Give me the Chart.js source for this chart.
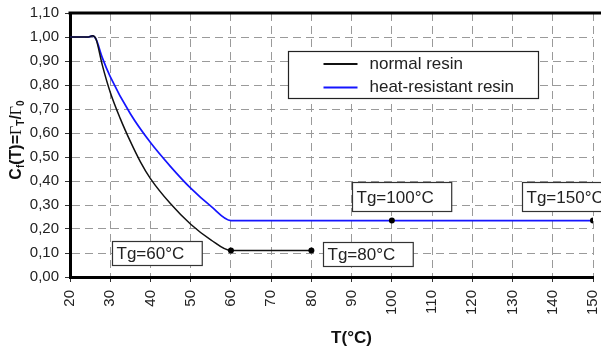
<!DOCTYPE html>
<html>
<head>
<meta charset="utf-8">
<script src="https://cdn.jsdelivr.net/npm/chart.js@4.4.1/dist/chart.umd.min.js"></script>
<style>
  html, body { margin: 0; padding: 0; background: #fff; }
  #myChartTg { display: block; }
</style>
</head>
<body>
<canvas id="myChartTg" width="601" height="349"></canvas>
<script>
//? Valeurs (T en °C, Cf sans unité).

const temperaturesNormal = [20, 24.5, 25.6, 26.5, 28, 30, 32.5, 35, 37.5, 40, 45, 50, 55, 60, 80];
const valeursNormal = [1.0, 1.0, 1.005, 0.99, 0.885, 0.77, 0.66, 0.565, 0.48, 0.41, 0.305, 0.22, 0.155, 0.11, 0.11];

const temperaturesHeat = [20, 24.5, 25.6, 26.5, 28, 30, 35, 40, 45, 50, 55, 60, 100, 150];
const valeursHeat = [1.0, 1.0, 1.005, 0.99, 0.915, 0.835, 0.68, 0.56, 0.46, 0.37, 0.295, 0.235, 0.235, 0.235];

// points marqués (Tg)
const pointsNormal = [60, 80];
const pointsHeat = [100, 150];

const seriesLabels = ["normal resin", "heat-resistant resin"];
const tgLabels = ["Tg=60°C", "Tg=80°C", "Tg=100°C", "Tg=150°C"];

//? -------------------------------------------------

//? Placement des étiquettes Tg (coin haut-gauche en coordonnées du graphique).

const tgBoxes = [
  { text: tgLabels[0], x: 30.4, y: 0.151, h: 24 },
  { text: tgLabels[1], x: 82.8, y: 0.145, h: 24 },
  { text: tgLabels[2], x: 90.0, y: 0.395, h: 29 },
  { text: tgLabels[3], x: 132.4, y: 0.395, h: 29 },
];

const FONT = "'Liberation Sans', Arial, sans-serif";
const TEXT_COLOR = "#222";

const toPoints = (xs, ys) => xs.map((x, i) => ({ x, y: ys[i] }));
const radii = (xs, marked) => xs.map((x) => (marked.includes(x) ? 3 : 0));

//? -------------------------------------------------

//? Dessin du cadre, de la légende, des étiquettes et du titre Y.

const decorations = {
  id: "decorations",
  afterDraw(chart) {
    const { ctx, chartArea, scales } = chart;
    const xs = scales.x;
    const ys = scales.y;

    ctx.save();

    // bordure haute
    ctx.strokeStyle = "#000";
    ctx.lineWidth = 3;
    ctx.beginPath();
    ctx.moveTo(chartArea.left - 1.5, chartArea.top);
    ctx.lineTo(chart.width, chartArea.top);
    ctx.stroke();

    // étiquettes Tg
    ctx.font = "17px " + FONT;
    ctx.textBaseline = "middle";
    ctx.textAlign = "left";
    tgBoxes.forEach((b) => {
      const left = Math.round(xs.getPixelForValue(b.x)) + 0.5;
      const top = Math.round(ys.getPixelForValue(b.y)) + 0.5;
      const w = ctx.measureText(b.text).width + 22;
      ctx.fillStyle = "#fff";
      ctx.fillRect(left, top, w, b.h);
      ctx.strokeStyle = "#333";
      ctx.lineWidth = 1.2;
      ctx.strokeRect(left, top, w, b.h);
      ctx.fillStyle = TEXT_COLOR;
      ctx.fillText(b.text, left + 4, top + b.h / 2 + 1);
    });

    // légende
    const lgLeft = chartArea.left + 218.5;
    const lgTop = chartArea.top + 38.5;
    ctx.fillStyle = "#fff";
    ctx.fillRect(lgLeft, lgTop, 250, 47);
    ctx.strokeStyle = "#222";
    ctx.lineWidth = 1.2;
    ctx.strokeRect(lgLeft, lgTop, 250, 47);
    const colors = chart.data.datasets.map((d) => d.borderColor);
    seriesLabels.forEach((label, i) => {
      const yy = lgTop + 12.5 + i * 23.5;
      ctx.strokeStyle = colors[i];
      ctx.lineWidth = 2;
      ctx.beginPath();
      ctx.moveTo(lgLeft + 35, yy);
      ctx.lineTo(lgLeft + 69, yy);
      ctx.stroke();
      ctx.fillStyle = TEXT_COLOR;
      ctx.font = "17px " + FONT;
      ctx.fillText(label, lgLeft + 81, yy);
    });

    // titre axe X
    ctx.font = "bold 17px " + FONT;
    ctx.textAlign = "center";
    ctx.fillStyle = "#111";
    ctx.fillText("T(°C)", (chartArea.left + chartArea.right) / 2 + 20, 338);

    // titre axe Y : Cf(T)=ΓT/Γ0
    const parts = [
      { t: "C", f: "bold 16px " + FONT, dy: 0 },
      { t: "f", f: "bold 10px " + FONT, dy: 3 },
      { t: "(T)=", f: "bold 16px " + FONT, dy: 0 },
      { t: "Γ", f: "16px 'Liberation Serif', serif", dy: 0 },
      { t: "T", f: "bold 10px " + FONT, dy: 3 },
      { t: "/", f: "bold 16px " + FONT, dy: 0 },
      { t: "Γ", f: "16px 'Liberation Serif', serif", dy: 0 },
      { t: "0", f: "bold 10px " + FONT, dy: 3 },
    ];
    let total = 0;
    parts.forEach((p) => {
      ctx.font = p.f;
      p.w = ctx.measureText(p.t).width;
      total += p.w;
    });
    ctx.translate(21, (chartArea.top + chartArea.bottom) / 2 - 5);
    ctx.rotate(-Math.PI / 2);
    ctx.textAlign = "left";
    ctx.textBaseline = "alphabetic";
    let cx = -total / 2;
    parts.forEach((p) => {
      ctx.font = p.f;
      ctx.fillText(p.t, cx, p.dy);
      cx += p.w;
    });

    ctx.restore();
  },
};

//? -------------------------------------------------

//? Construction du graphique.

const constructionGraphique = () => {
  try {
    const ctx = document.getElementById("myChartTg").getContext("2d");

    const data = {
      datasets: [
        {
          label: seriesLabels[0],
          data: toPoints(temperaturesNormal, valeursNormal),
          borderColor: "#111",
          backgroundColor: "#000",
          borderWidth: 1.5,
          cubicInterpolationMode: "monotone",
          pointRadius: radii(temperaturesNormal, pointsNormal),
          pointBackgroundColor: "#000",
          pointBorderWidth: 0,
        },
        {
          label: seriesLabels[1],
          data: toPoints(temperaturesHeat, valeursHeat),
          borderColor: "#1515ff",
          backgroundColor: "#000",
          borderWidth: 1.7,
          cubicInterpolationMode: "monotone",
          pointRadius: radii(temperaturesHeat, pointsHeat),
          pointBackgroundColor: "#000",
          pointBorderWidth: 0,
        },
      ],
    };

    const gridOpts = {
      color: "#9a9a9a",
      lineWidth: 1,
      tickLength: 5,
      tickColor: "#333",
      tickBorderDash: [],
    };

    const options = {
      responsive: false,
      animation: false,
      devicePixelRatio: 1,
      layout: { padding: { top: 13, right: 8, left: 0, bottom: 0 } },
      plugins: {
        legend: { display: false },
        tooltip: { enabled: false },
      },
      scales: {
        x: {
          type: "linear",
          min: 20,
          max: 150,
          grid: gridOpts,
          border: { display: true, color: "#000", width: 3, dash: [8, 5] },
          ticks: {
            stepSize: 10,
            minRotation: 90,
            maxRotation: 90,
            padding: 8,
            color: TEXT_COLOR,
            font: { family: FONT, size: 15 },
          },
          afterFit: (scale) => {
            scale.height = 72;
            scale.paddingLeft = 0;
            scale.paddingRight = 0;
          },
        },
        y: {
          min: 0,
          max: 1.1,
          grid: gridOpts,
          border: { display: true, color: "#000", width: 3, dash: [8, 5] },
          ticks: {
            stepSize: 0.1,
            padding: 6,
            color: TEXT_COLOR,
            font: { family: FONT, size: 15 },
            callback: (v) => v.toFixed(2).replace(".", ","),
          },
          afterFit: (scale) => {
            scale.width = 70;
            scale.paddingTop = 0;
            scale.paddingBottom = 0;
          },
        },
      },
    };

    new Chart(ctx, { type: "line", data, options, plugins: [decorations] });
  } catch (error) {
    console.error("🔴 ERROR | Construction graphique :", error);
  }
};

constructionGraphique();
</script>
</body>
</html>
